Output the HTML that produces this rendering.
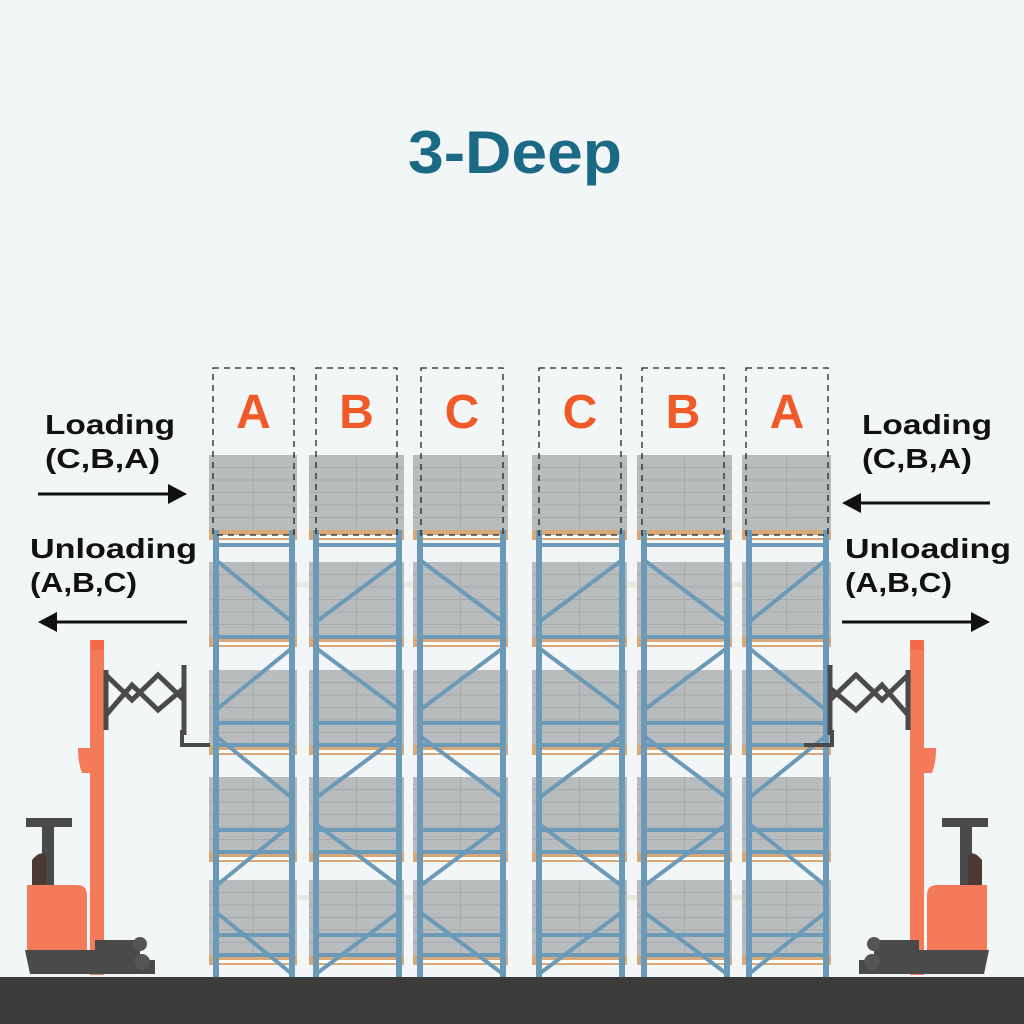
<!DOCTYPE html>
<html><head><meta charset="utf-8"><style>
html,body{margin:0;padding:0;background:#f2f6f7;}
svg{display:block}
text{font-family:"Liberation Sans",sans-serif;font-weight:bold}
</style></head><body>
<svg id="s" width="1024" height="1024" viewBox="0 0 1024 1024" xmlns="http://www.w3.org/2000/svg">
<rect width="1024" height="1024" fill="#f2f6f7"/>
<text x="408" y="173" font-size="60" fill="#1b6a85" textLength="214" lengthAdjust="spacingAndGlyphs">3-Deep</text>
<g id="racks"></g>
<rect x="0" y="977" width="1024" height="47" fill="#3b3b3b"/>
<g font-size="28" fill="#111" lengthAdjust="spacingAndGlyphs">
<text x="45" y="434" textLength="130" lengthAdjust="spacingAndGlyphs">Loading</text>
<text x="45" y="468" textLength="115" lengthAdjust="spacingAndGlyphs">(C,B,A)</text>
<text x="30" y="558" textLength="167" lengthAdjust="spacingAndGlyphs">Unloading</text>
<text x="30" y="592" textLength="107" lengthAdjust="spacingAndGlyphs">(A,B,C)</text>
<text x="862" y="434" textLength="130" lengthAdjust="spacingAndGlyphs">Loading</text>
<text x="862" y="468" textLength="110" lengthAdjust="spacingAndGlyphs">(C,B,A)</text>
<text x="845" y="558" textLength="166" lengthAdjust="spacingAndGlyphs">Unloading</text>
<text x="845" y="592" textLength="107" lengthAdjust="spacingAndGlyphs">(A,B,C)</text>
</g>
<g stroke="#111" stroke-width="3" fill="#111">
<line x1="38" y1="494" x2="172" y2="494"/><polygon points="187,494 168,484 168,504" stroke="none"/>
<line x1="53" y1="622" x2="187" y2="622"/><polygon points="38,622 57,612 57,632" stroke="none"/>
<line x1="857" y1="503" x2="990" y2="503"/><polygon points="842,503 861,493 861,513" stroke="none"/>
<line x1="842" y1="622" x2="975" y2="622"/><polygon points="990,622 971,612 971,632" stroke="none"/>
</g>
<g id="fl">
<rect x="90" y="640" width="14" height="335" fill="#f47a5a"/>
<rect x="91" y="640" width="13" height="10" fill="#f26a48"/>
<path d="M78 748 h26 v25 h-22 q-4-10-4-25z" fill="#f47a5a"/>
<g stroke="#4a4a4a" stroke-width="5" fill="none">
<path d="M106 675 L132 700 L158 675 L184 700 M106 715 L132 685 L158 710 L184 688"/>
<line x1="106" y1="670" x2="106" y2="730"/><line x1="184" y1="665" x2="184" y2="735"/>
<path d="M182 730 v15 h28" stroke-width="4"/>
</g>
<rect x="26" y="818" width="46" height="9" fill="#4a4a4a"/>
<rect x="42" y="825" width="12" height="60" fill="#4a4a4a"/>
<path d="M32 860 q8-10 14-5 v30 h-14z" fill="#4a3a32"/>
<path d="M27 885 h50 q10 0 10 10 v60 h-60z" fill="#f47a5a"/>
<path d="M25 950 h70 v-10 h45 v20 h15 v14 h-125 z" fill="#4a4a4a"/>
<circle cx="140" cy="944" r="7" fill="#555"/><circle cx="142" cy="962" r="8" fill="#555"/>
</g>
<use href="#fl" transform="translate(1014,0) scale(-1,1)"/>
</svg>
<script>
var g=document.getElementById('racks'),ns='http://www.w3.org/2000/svg';
function el(t,a){var e=document.createElementNS(ns,t);for(var k in a)e.setAttribute(k,a[k]);g.appendChild(e);return e;}
var cols=[[209,297,213,294,'A'],[309,404,316,397,'B'],[413,508,421,503,'C'],[532,627,539,621,'C'],[637,732,642,724,'B'],[742,831,746,828,'A']];
var rows=[455,562,670,777,880];
cols.forEach(function(c,ci){
 var x0=c[0],x1=c[1];
 rows.forEach(function(y){
  el('rect',{x:x0,y:y,width:x1-x0,height:75,fill:'#b9bcbc'});
  for(var i=1;i<6;i++)el('line',{x1:x0,y1:y+i*12.5,x2:x1,y2:y+i*12.5,stroke:'#a7aaab','stroke-width':1});
  el('line',{x1:(x0+x1)/2,y1:y,x2:(x0+x1)/2,y2:y+75,stroke:'#a7aaab','stroke-width':1});
  el('rect',{x:x0,y:y+75,width:x1-x0,height:10,fill:'#d9a878'});
  el('rect',{x:x0+8,y:y+80,width:x1-x0-16,height:3,fill:'#fff'});
 });
 var ul=x0+4,ur=x1-8;
 [545,723,830,935].forEach(function(y){el('rect',{x:ul,y:y-2,width:ur-ul+4,height:4,fill:'#6a9ab8'});});
 rows.slice(1).forEach(function(y){el('rect',{x:ul,y:y+73,width:ur-ul+4,height:4,fill:'#6a9ab8'});});
 var left=(ci%2==0);
 for(var y=560;y<975;y+=88){
  var y2=Math.min(y+62,975);
  el('line',{x1:left?ul+3:ur+3,y1:y,x2:left?ur+3:ul+3,y2:y2,stroke:'#6a9ab8','stroke-width':4});
  left=!left;
 }
 el('rect',{x:ul,y:530,width:6,height:447,fill:'#6a9ab8'});
 el('rect',{x:ur,y:530,width:6,height:447,fill:'#6a9ab8'});
 el('rect',{x:c[2],y:368,width:c[3]-c[2],height:167,fill:'none',stroke:'#222','stroke-width':1.3,'stroke-dasharray':'6,5'});
 var t=el('text',{x:(c[2]+c[3])/2,y:428,'text-anchor':'middle','font-size':48,fill:'#f05a28'});t.textContent=c[4];
});
[[297,309],[404,413],[627,637],[732,742]].forEach(function(p){[582,895].forEach(function(y){el('rect',{x:p[0],y:y,width:p[1]-p[0],height:5,fill:'#e8e8e0'});});});
</script>
</body></html>
